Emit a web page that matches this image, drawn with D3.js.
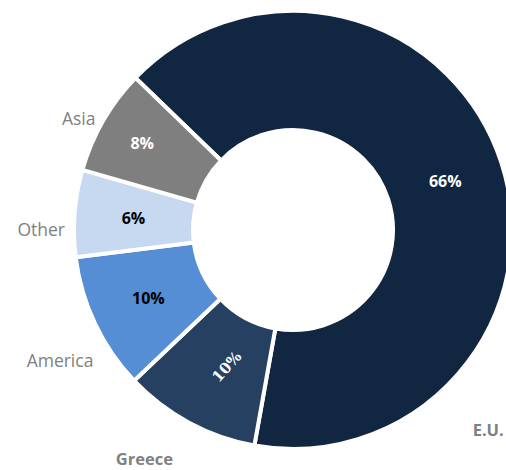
<!DOCTYPE html>
<html>
<head>
<meta charset="utf-8">
<script src="https://cdn.jsdelivr.net/npm/d3@7/dist/d3.min.js"></script>
<style>
html,body{margin:0;padding:0;background:#fff;}
svg{display:block;}
</style>
</head>
<body>
<svg id="chart" width="506" height="470"></svg>
<script>
// ---- data ----
const categories = ["E.U.", "Greece", "America", "Other", "Asia"];
const shares = [65.6, 10.1, 10.1, 6.4, 7.8];
const pctLabels = ["66%", "10%", "10%", "6%", "8%"];

// ---- styles ----
const sliceColors = ["#112640", "#264061", "#558ED5", "#C6D9F1", "#7F7F7F"];
const pctColors = ["#ffffff", "#ffffff", "#000000", "#000000", "#ffffff"];

const W = 506, H = 470;
const cx = 293, cy = 230;
const R = 219, r = 100;
const deg = Math.PI / 180;
const start = -46 * deg;

const svg = d3.select("#chart");
const g = svg.append("g").attr("transform", `translate(${cx},${cy})`);

const pie = d3.pie().sort(null).value(d => d.v)
  .startAngle(start).endAngle(start + 2 * Math.PI);
const data = pie(categories.map((c, i) => ({ c, v: shares[i], i })));

const arc = d3.arc().innerRadius(r).outerRadius(R);

g.selectAll("path.slice").data(data).enter().append("path")
  .attr("class", "slice")
  .attr("d", arc)
  .attr("fill", d => sliceColors[d.data.i])
  .attr("stroke", "#ffffff")
  .attr("stroke-width", 4)
  .attr("stroke-linejoin", "miter");

function polar(angleRad, rad) {
  return [Math.sin(angleRad) * rad, -Math.cos(angleRad) * rad];
}
const mid = d => (d.startAngle + d.endAngle) / 2;

// percentage labels
const pctRadius = { "Asia": 174, "Greece": 152 };
g.selectAll("text.pct").data(data).enter().append("text")
  .attr("class", "pct")
  .attr("transform", d => {
    const a = mid(d) + (d.data.c === "Greece" ? -2.5 * deg : 0);
    const [x, y] = polar(a, pctRadius[d.data.c] || 160);
    const rot = d.data.c === "Greece" ? -48 : 0;
    return `translate(${x},${y}) rotate(${rot})`;
  })
  .attr("text-anchor", "middle")
  .attr("dominant-baseline", "central")
  .attr("font-family", d => d.data.c === "Greece" ? "'DejaVu Serif', serif" : "'Open Sans', sans-serif")
  .attr("font-weight", "bold")
  .attr("font-size", d => d.data.c === "Greece" ? 15 : 16)
  .attr("fill", d => pctColors[d.data.i])
  .text(d => pctLabels[d.data.i]);

// category labels (polar layout around the ring)
const catLayout = {
  "Asia":    { a: 299.5, rad: 227, anchor: "end",    bold: false },
  "Other":   { a: 270.3, rad: 228, anchor: "end",    bold: false },
  "America": { a: 237,   rad: 238, anchor: "end",    bold: false },
  "Greece":  { a: 213,   rad: 273, anchor: "middle", bold: true },
  "E.U.":    { a: 135.6, rad: 279, anchor: "middle", bold: true }
};
g.selectAll("text.cat").data(data).enter().append("text")
  .attr("class", "cat")
  .each(function (d) {
    const L = catLayout[d.data.c];
    const [x, y] = polar(L.a * deg, L.rad);
    d3.select(this)
      .attr("x", x).attr("y", y)
      .attr("text-anchor", L.anchor)
      .attr("font-weight", L.bold ? "bold" : "normal")
      .attr("font-size", L.bold ? 16.5 : 17.5);
  })
  .attr("dominant-baseline", "central")
  .attr("font-family", "'Open Sans', sans-serif")
  .attr("fill", "#808080")
  .text(d => d.data.c);
</script>
</body>
</html>
